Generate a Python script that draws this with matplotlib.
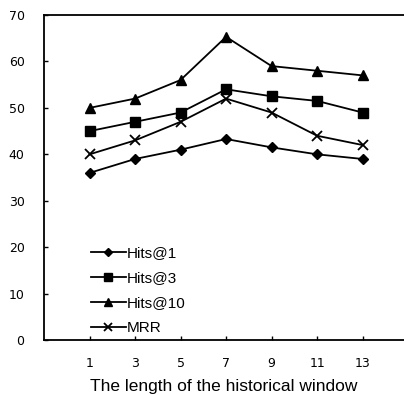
import numpy as np
import matplotlib.pyplot as plt

# длина исторического окна
windows = ["1", "3", "5", "7", "9", "11", "13"]
# метрики
hits1 = [36, 39, 41, 43.3, 41.5, 40, 39]
hits3 = [45, 47, 49, 54, 52.5, 51.5, 49]
hits10 = [50, 52, 56, 65.3, 59, 58, 57]
mrr = [40, 43, 47, 52, 49, 44, 42]

fig = plt.figure(figsize=(4.04, 3.95), dpi=100)
ax = fig.add_axes([0.109, 0.139, 0.891, 0.823])

x = np.arange(1, len(windows) + 1)
ax.plot(x, hits1, color="black", lw=1.3, marker="D", ms=5.5, label="Hits@1")
ax.plot(x, hits3, color="black", lw=1.3, marker="s", ms=7, label="Hits@3")
ax.plot(x, hits10, color="black", lw=1.3, marker="^", ms=7, label="Hits@10")
ax.plot(x, mrr, color="black", lw=1.3, marker="x", ms=7, mew=1.3, label="MRR")

ax.set_xlim(0, 7.91)
ax.set_ylim(0, 70)
ax.set_xticks(x)
ax.set_xticklabels(windows)
ax.set_yticks(range(0, 71, 10))
ax.tick_params(direction="in", length=3, width=1, labelsize=9)
ax.tick_params(axis="y", pad=14)
ax.tick_params(axis="x", pad=12)
for lbl in ax.get_xticklabels() + ax.get_yticklabels():
    lbl.set_family("DejaVu Sans")

ax.spines["right"].set_visible(False)
for s in ["left", "top", "bottom"]:
    ax.spines[s].set_linewidth(1.3)

ax.set_xlabel("The length of the historical window", fontsize=12.5,
              family="Liberation Sans", va="center")
ax.xaxis.set_label_coords(0.5, -0.142)

ax.legend(loc="lower left", bbox_to_anchor=(0.13, 0.015), frameon=False,
          prop={"family": "Liberation Sans", "size": 11},
          handlelength=2.3, handletextpad=0.05, labelspacing=0.72,
          markerscale=0.8, borderpad=0, borderaxespad=0)

fig.savefig("out.png", dpi=100)
